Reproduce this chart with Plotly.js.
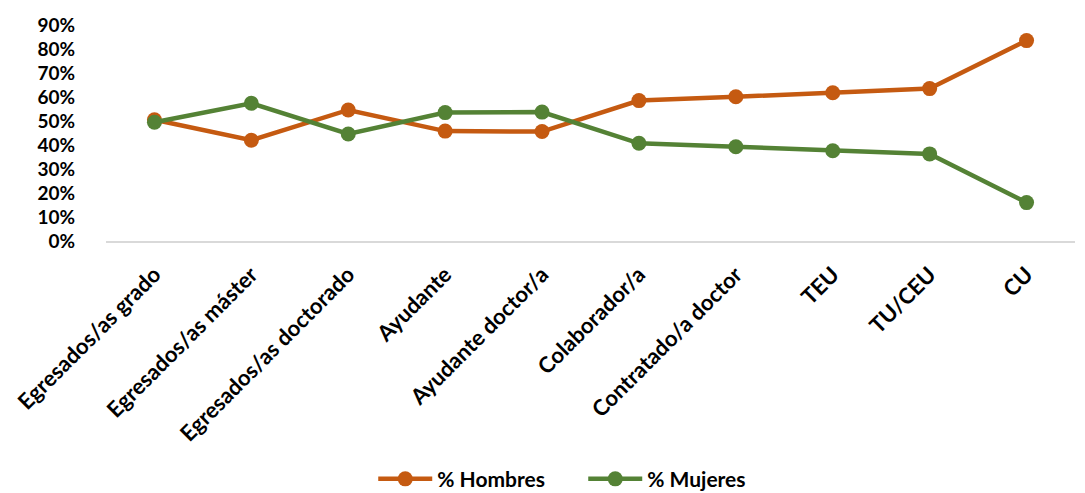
<!DOCTYPE html>
<html>
<head>
<meta charset="utf-8">
<script src="https://cdn.plot.ly/plotly-3.0.1.min.js"></script>
<style>html,body{margin:0;padding:0;background:#fff;}#chart{width:1085px;height:493px;}</style>
</head>
<body>
<div id="chart"></div>
<script>
const categories = ["Egresados/as grado","Egresados/as máster","Egresados/as doctorado","Ayudante","Ayudante doctor/a","Colaborador/a","Contratado/a doctor","TEU","TU/CEU","CU"];
const hombres = [0.505, 0.420, 0.546, 0.458, 0.456, 0.585, 0.601, 0.618, 0.635, 0.835];
const mujeres = [0.495, 0.574, 0.446, 0.535, 0.537, 0.407, 0.393, 0.376, 0.363, 0.160];
const yTicks = [0, 0.1, 0.2, 0.3, 0.4, 0.5, 0.6, 0.7, 0.8, 0.9];

const FONT = "Lato, 'Open Sans', sans-serif";
const orange = "#C55A11";
const green = "#548235";

const traces = [
  {x: categories, y: hombres, name: "% Hombres", type: "scatter", mode: "lines+markers",
   line: {color: orange, width: 4.5}, marker: {color: orange, size: 15}},
  {x: categories, y: mujeres, name: "% Mujeres", type: "scatter", mode: "lines+markers",
   line: {color: green, width: 4.5}, marker: {color: green, size: 15}}
];

const layout = {
  width: 1085, height: 493,
  margin: {l: 106, r: 10, t: 25, b: 252},
  paper_bgcolor: "#fff", plot_bgcolor: "#fff",
  font: {family: FONT, size: 18, color: "#000"},
  showlegend: true,
  legend: {orientation: "h", x: 0.344, xanchor: "left", xref: "container",
           y: 0.028, yanchor: "middle", yref: "container", entrywidth: 141, entrywidthmode: "pixels",
           font: {family: FONT, size: 21, color: "#000", weight: "bold"}, itemwidth: 54, tracegroupgap: 0},
  xaxis: {type: "category", range: [-0.5, 9.5], tickangle: -45, showgrid: false, zeroline: false,
          showline: true, linecolor: "#D9D9D9", linewidth: 2, ticks: "", ticklabelstandoff: 10,
          automargin: false,
          tickfont: {family: FONT, size: 22, color: "#000", weight: "bold"}, fixedrange: true},
  yaxis: {range: [0, 0.9], tickvals: yTicks, tickformat: ".0%", showgrid: false, zeroline: false,
          showline: false, ticks: "", ticklabelstandoff: 30, automargin: false,
          tickfont: {family: FONT, size: 19, color: "#000", weight: "bold"}, fixedrange: true}
};

Plotly.newPlot("chart", traces, layout, {displayModeBar: false, staticPlot: true});
</script>
</body>
</html>
